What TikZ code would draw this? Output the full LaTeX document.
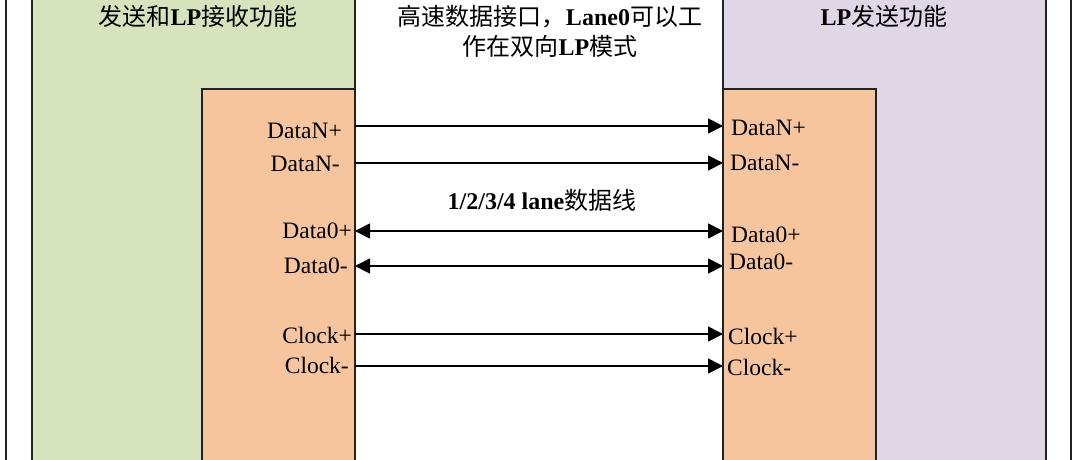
\documentclass[tikz,border=0pt]{standalone}
\usepackage{fontspec}
\setmainfont{Liberation Serif}
\newfontfamily\cjk{Noto Sans CJK SC}
\usetikzlibrary{arrows.meta}
\definecolor{greenfill}{HTML}{D6E3BC}
\definecolor{purplefill}{HTML}{DFD6E6}
\definecolor{orangefill}{HTML}{F6C59E}
\definecolor{edge}{HTML}{222222}
\tikzset{
  blockbox/.style={draw=edge, line width=1.2pt},
  pinlabel/.style={inner sep=0pt, font=\fontsize{23.5}{28}\selectfont, text=black},
  title/.style={inner sep=0pt, font=\fontsize{24}{30}\selectfont, text=black, align=center},
  sig/.style={line width=1.8pt, draw=black},
  tip/.style={-{Triangle[length=15pt,width=15pt]}},
  bitip/.style={{Triangle[length=15pt,width=15pt]}-{Triangle[length=15pt,width=15pt]}}
}
\begin{document}
\begin{tikzpicture}[x=1pt,y=-1pt]
\useasboundingbox (0,0) rectangle (1080,459);
\clip (0,0) rectangle (1080,459);
\fill[white] (0,0) rectangle (1080,459);
% outer frame
\draw[blockbox] (6,-20) rectangle (1071,480);
% left blocks
\draw[blockbox, fill=greenfill] (32,-20) rectangle (355,480);
\draw[blockbox, fill=orangefill] (202,89) rectangle (355,480);
% right blocks
\draw[blockbox, fill=purplefill] (723,-20) rectangle (1046,480);
\draw[blockbox, fill=orangefill] (723,89) rectangle (876,480);
% titles
\node[title] (tl) at (198,16) {{\cjk 发送和}\textbf{LP}{\cjk 接收功能}};
\node[title] (tr) at (884,16) {\textbf{LP}{\cjk 发送功能}};
\node[title] (tm) at (550,31) {{\cjk 高速数据接口，}\textbf{Lane0}{\cjk 可以工}\\{\cjk 作在双向}\textbf{LP}{\cjk 模式}};
\node[title] (lane) at (542,200) {\textbf{1/2/3/4 lane}{\cjk 数据线}};
% pin coordinates
\coordinate (L1) at (355,126); \coordinate (R1) at (723,126);
\coordinate (L2) at (355,163); \coordinate (R2) at (723,163);
\coordinate (L3) at (355,231); \coordinate (R3) at (723,231);
\coordinate (L4) at (355,266); \coordinate (R4) at (723,266);
\coordinate (L5) at (355,334); \coordinate (R5) at (723,334);
\coordinate (L6) at (355,366); \coordinate (R6) at (723,366);
% left labels
\node[pinlabel, anchor=base east] (ll1) at (342,138) {DataN+};
\node[pinlabel, anchor=base east] (ll2) at (340,171) {DataN-};
\node[pinlabel, anchor=base east] (ll3) at (352,238) {Data0+};
\node[pinlabel, anchor=base east] (ll4) at (348,273) {Data0-};
\node[pinlabel, anchor=base east] (ll5) at (352,343) {Clock+};
\node[pinlabel, anchor=base east] (ll6) at (349,373) {Clock-};
% right labels
\node[pinlabel, anchor=base west] (rl1) at (731,135) {DataN+};
\node[pinlabel, anchor=base west] (rl2) at (730,170) {DataN-};
\node[pinlabel, anchor=base west] (rl3) at (731,242) {Data0+};
\node[pinlabel, anchor=base west] (rl4) at (729,269) {Data0-};
\node[pinlabel, anchor=base west] (rl5) at (728,344) {Clock+};
\node[pinlabel, anchor=base west] (rl6) at (727,375) {Clock-};
% connectors
\draw[sig, tip] (L1) -- (R1);
\draw[sig, tip] (L2) -- (R2);
\draw[sig, bitip] (L3) -- (R3);
\draw[sig, bitip] (L4) -- (R4);
\draw[sig, tip] (L5) -- (R5);
\draw[sig, tip] (L6) -- (R6);
\end{tikzpicture}
\end{document}
